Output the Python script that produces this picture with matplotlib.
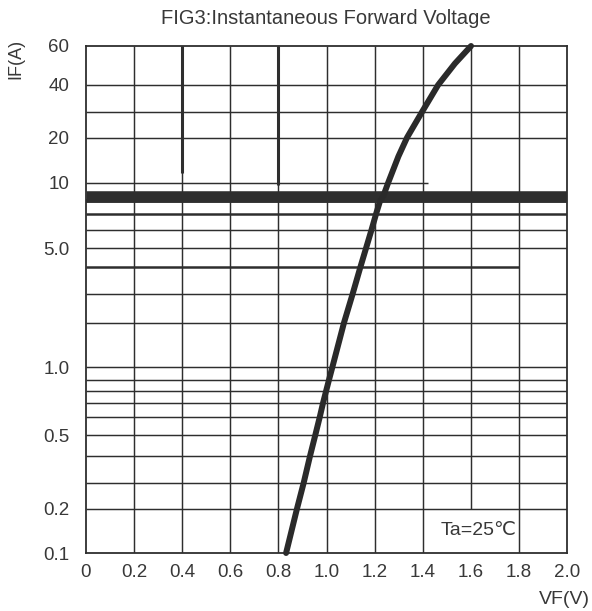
import numpy as np
import matplotlib
matplotlib.use("Agg")
import matplotlib.pyplot as plt

# ---------------- data ----------------
title = "FIG3:Instantaneous Forward Voltage"
x_label = "VF(V)"
y_label = "IF(A)"
note = "Ta=25\u2103"

x_ticks = [0, 0.2, 0.4, 0.6, 0.8, 1.0, 1.2, 1.4, 1.6, 1.8, 2.0]
x_tick_labels = ["0", "0.2", "0.4", "0.6", "0.8", "1.0", "1.2", "1.4", "1.6", "1.8", "2.0"]
y_ticks = [0.1, 0.2, 0.5, 1.0, 5.0, 10, 20, 40, 60]
y_tick_labels = ["0.1", "0.2", "0.5", "1.0", "5.0", "10", "20", "40", "60"]

# horizontal grid values of the (scanned, slightly distorted) log paper
h_grid = [0.1, 0.2, 0.3, 0.4, 0.5, 0.6, 0.7, 0.8, 0.9, 1, 2, 3, 4, 5, 6, 7, 8, 9, 10, 20, 30, 40, 60]
v_grid = [0.2, 0.4, 0.6, 0.8, 1.0, 1.2, 1.4, 1.6, 1.8]

# forward characteristic curve
vf = [0.832, 0.877, 0.905, 0.932, 0.953, 0.972, 0.986, 0.998, 1.010, 1.024,
      1.073, 1.108, 1.141, 1.164, 1.187, 1.206, 1.222, 1.237, 1.256, 1.299,
      1.335, 1.397, 1.464, 1.534, 1.601]
i_f = [0.1, 0.2, 0.3, 0.4, 0.5, 0.6, 0.7, 0.8, 0.9, 1.0,
       2, 3, 4, 5, 6, 7, 8, 9, 10, 15,
       20, 30, 40, 50, 60]

# ---------------- scale (distortion of the scanned log paper) ----------------
scale_frac = [0.0, 0.0868, 0.1381, 0.1923, 0.2318, 0.2682, 0.2967, 0.3188,
              0.3409, 0.3659, 0.4546, 0.5099, 0.5641, 0.6006, 0.6371, 0.6686,
              0.6933, 0.7051, 0.7298, 0.8195, 0.8698, 0.9231, 1.0]
_lv = np.log10(np.array(h_grid, dtype=float))
_lf = np.array(scale_frac)
_lv_ext = np.concatenate([[_lv[0] - 3], _lv, [_lv[-1] + 3]])
_lf_ext = np.concatenate([[_lf[0] - 3 * 0.6], _lf, [_lf[-1] + 3 * 0.6]])


def fwd(v):
    v = np.asarray(v, dtype=float)
    lv = np.log10(np.clip(v, 1e-9, None))
    return np.interp(lv, _lv_ext, _lf_ext)


def inv(f):
    f = np.asarray(f, dtype=float)
    return 10 ** np.interp(f, _lf_ext, _lv_ext)


fam = ["Liberation Sans", "DejaVu Sans"]
plt.rcParams["font.family"] = fam

ink = "#2e2e2e"
txt = "#383838"

fig = plt.figure(figsize=(5.92, 6.11), dpi=100)
ax = fig.add_axes([86 / 592, (611 - 553) / 611, 481 / 592, 507 / 611])
ax.set_yscale("function", functions=(fwd, inv))
ax.set_xlim(0, 2.0)
ax.set_ylim(0.1, 60)

# grid lines
h_width = {9: 7.6, 8: 2.8, 7: 1.8, 4: 1.8}
h_xmax = {10: 1.42, 4: 1.8}
for v in h_grid:
    if v in (0.1, 60):
        continue
    ax.hlines(v, 0, h_xmax.get(v, 2.0), color=ink, lw=h_width.get(v, 1.05), zorder=1)

v_ymin = {1.6: 0.2}
for x in v_grid:
    ax.vlines(x, v_ymin.get(x, 0.1), 60, color=ink, lw=1.05, zorder=1)
# darker upper segments of the scanned paper
ax.vlines(0.4, 11.6, 60, color=ink, lw=2.2, zorder=1)
ax.vlines(0.8, 9.8, 60, color=ink, lw=2.2, zorder=1)

# curve
ax.plot(vf, i_f, color="#2a2a2a", lw=4.3, solid_capstyle="round",
        solid_joinstyle="round", zorder=3, clip_on=False)

for s in ax.spines.values():
    s.set_color(ink)
    s.set_linewidth(1.3)

ax.set_xticks(x_ticks, x_tick_labels)
ax.set_yticks(y_ticks, y_tick_labels)
ax.minorticks_off()
ax.tick_params(axis="both", length=0, labelsize=13.5, labelcolor=txt)
ax.tick_params(axis="y", pad=12)
ax.tick_params(axis="x", pad=8)

fig.text(326 / 592, 1 - 18 / 611, title, ha="center", va="center", fontsize=14.5, color=txt)
fig.text(590 / 592, 1 - 599 / 611, x_label, ha="right", va="center", fontsize=14, color=txt)
fig.text(16 / 592, 1 - 59 / 611, y_label, ha="center", va="center", rotation=90, fontsize=13, color=txt)
ax.text(1.475, 0.143, note, ha="left", va="center", fontsize=14, color=txt, family=fam)

fig.savefig("out.png", dpi=100, facecolor="white")
